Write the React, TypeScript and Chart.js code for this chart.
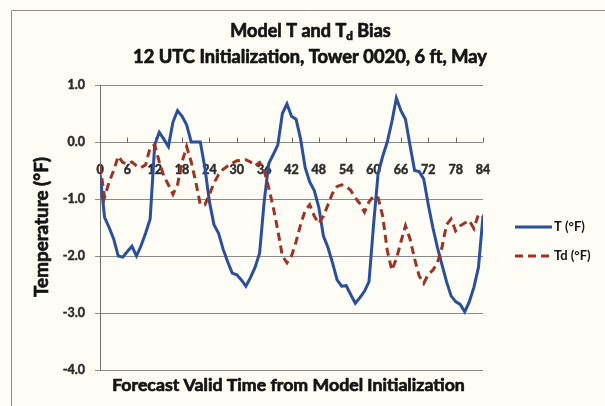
import React, { useEffect, useRef } from 'react';
import { Chart, registerables } from 'chart.js';

Chart.register(...registerables);

const HOURS = [
  0, 1, 2, 3, 4, 5, 6, 7, 8, 9, 10, 11, 12, 13, 14, 15, 16, 17, 18, 19, 20,
  21, 22, 23, 24, 25, 26, 27, 28, 29, 30, 31, 32, 33, 34, 35, 36, 37, 38, 39, 40,
  41, 42, 43, 44, 45, 46, 47, 48, 49, 50, 51, 52, 53, 54, 55, 56, 57, 58, 59, 60,
  61, 62, 63, 64, 65, 66, 67, 68, 69, 70, 71, 72, 73, 74, 75, 76, 77, 78, 79, 80,
  81, 82, 83, 84,
];

const T_BIAS = [
  -0.55, -1.32, -1.5, -1.7, -2.0, -2.02, -1.92, -1.83, -2.0, -1.82, -1.6,
  -1.35, -0.05, 0.17, 0.05, -0.08, 0.35, 0.55, 0.45, 0.3, 0.0,
  0.0, 0.0, -0.45, -1.05, -1.45, -1.6, -1.88, -2.1, -2.3, -2.33,
  -2.42, -2.53, -2.38, -2.2, -1.95, -1.05, -0.38, -0.22, -0.05, 0.5,
  0.67, 0.45, 0.4, 0.05, -0.45, -0.7, -0.85, -1.15, -1.65, -1.85,
  -2.12, -2.42, -2.53, -2.52, -2.68, -2.83, -2.73, -2.62, -2.45, -1.45,
  -0.55, -0.25, 0.0, 0.35, 0.77, 0.55, 0.4, -0.06, -0.5, -0.52,
  -0.65, -1.1, -1.5, -1.85, -2.15, -2.45, -2.7, -2.8, -2.85, -2.98,
  -2.8, -2.55, -2.2, -1.3,
];

const TD_BIAS = [
  -0.41, -0.97, -0.7, -0.5, -0.25, -0.36, -0.38, -0.35, -0.42, -0.45, -0.4,
  -0.1, -0.05, -0.35, -0.6, -0.75, -0.92, -0.75, -0.35, -0.08, -0.35,
  -0.7, -1.1, -1.1, -0.92, -0.72, -0.57, -0.48, -0.42, -0.37, -0.33,
  -0.32, -0.31, -0.35, -0.42, -0.36, -0.5, -0.8, -1.15, -1.55, -2.0,
  -2.12, -2.0, -1.75, -1.45, -1.2, -1.1, -1.3, -1.43, -1.3, -1.1,
  -0.9, -0.78, -0.75, -0.78, -0.85, -0.98, -1.08, -1.23, -1.05, -0.95,
  -0.98, -1.3, -1.9, -2.25, -2.05, -1.75, -1.47, -1.7, -2.05, -2.35,
  -2.48, -2.32, -2.25, -2.12, -1.85, -1.45, -1.35, -1.56, -1.47, -1.42,
  -1.38, -1.52, -1.27, -1.3,
];

const SERIES_NAMES = ['T (°F)', 'Td (°F)'];
const TITLE_LINE1 = ['Model T and T', 'd', ' Bias'];
const TITLE_LINE2 = '12 UTC Initialization, Tower 0020, 6 ft, May';
const X_TITLE = 'Forecast Valid Time from Model Initialization';
const Y_TITLE = 'Temperature (°F)';
const Y_MIN = -4;
const Y_MAX = 1;
const X_MIN = 0;
const X_MAX = 84;
const X_STEP = 6;

const FONT = 'Lato, "Open Sans", "DejaVu Sans", sans-serif';
const W = 'bold';
const BLUE = '#2b4f9a';
const RED = '#9c3326';
const BG = '#fdfdf5';
const TEXT = '#141414';
const TICK_TEXT = '#2c2c2c';
const STROKE = 0.7;

function fitSize(ctx: CanvasRenderingContext2D, text: string, weight: string, target: number) {
  ctx.font = `${weight} 20px ${FONT}`;
  const w = ctx.measureText(text).width;
  return (20 * target) / w;
}

function heavyText(ctx: CanvasRenderingContext2D, text: string, x: number, y: number) {
  ctx.fillText(text, x, y);
  ctx.strokeText(text, x, y);
}

const decorPlugin = {
  id: 'decor',
  beforeDraw(chart: any) {
    const ctx = chart.ctx as CanvasRenderingContext2D;
    ctx.save();
    ctx.fillStyle = BG;
    ctx.fillRect(0, 0, chart.width, chart.height);
    ctx.strokeStyle = '#8e8e8e';
    ctx.lineWidth = 1;
    ctx.beginPath();
    ctx.moveTo(11.5, chart.height);
    ctx.lineTo(11.5, 10.5);
    ctx.lineTo(chart.width, 10.5);
    ctx.stroke();
    ctx.restore();
  },
  beforeDatasetsDraw(chart: any) {
    const ctx = chart.ctx as CanvasRenderingContext2D;
    const xs = chart.scales.x;
    const ys = chart.scales.y;
    const y0 = Math.round(ys.getPixelForValue(0)) + 0.5;
    ctx.save();
    ctx.strokeStyle = '#6a6a6a';
    ctx.lineWidth = 1;
    ctx.beginPath();
    for (let h = X_MIN; h <= X_MAX; h += X_STEP) {
      const px = Math.round(xs.getPixelForValue(h)) + 0.5;
      ctx.moveTo(px, y0);
      ctx.lineTo(px, y0 - 5);
    }
    ctx.stroke();
    ctx.restore();
  },
  afterDraw(chart: any) {
    const ctx = chart.ctx as CanvasRenderingContext2D;
    ctx.save();
    ctx.fillStyle = TEXT;
    ctx.strokeStyle = TEXT;
    ctx.lineWidth = STROKE;
    ctx.lineJoin = 'round';
    ctx.textBaseline = 'middle';

    // Title line 1 with subscript d
    const fullLine1 = TITLE_LINE1.join('');
    const s1 = fitSize(ctx, fullLine1, W, 162);
    const subSize = s1 * 0.65;
    ctx.font = `${W} ${s1}px ${FONT}`;
    const wA = ctx.measureText(TITLE_LINE1[0]).width;
    const wC = ctx.measureText(TITLE_LINE1[2]).width;
    ctx.font = `${W} ${subSize}px ${FONT}`;
    const wB = ctx.measureText(TITLE_LINE1[1]).width;
    const total = wA + wB + wC;
    let x = 310.5 - total / 2;
    const yT1 = 31;
    ctx.textAlign = 'left';
    ctx.font = `${W} ${s1}px ${FONT}`;
    heavyText(ctx, TITLE_LINE1[0], x, yT1);
    x += wA;
    ctx.font = `${W} ${subSize}px ${FONT}`;
    heavyText(ctx, TITLE_LINE1[1], x, yT1 + s1 * 0.3);
    x += wB;
    ctx.font = `${W} ${s1}px ${FONT}`;
    heavyText(ctx, TITLE_LINE1[2], x, yT1);

    // Title line 2
    const s2 = fitSize(ctx, TITLE_LINE2, W, 354);
    ctx.font = `${W} ${s2}px ${FONT}`;
    ctx.textAlign = 'center';
    heavyText(ctx, TITLE_LINE2, 310, 57);

    // X title
    const s3 = fitSize(ctx, X_TITLE, W, 353);
    ctx.font = `${W} ${s3}px ${FONT}`;
    heavyText(ctx, X_TITLE, 288.5, 385);

    // Y title
    const s4 = fitSize(ctx, Y_TITLE, W, 140);
    ctx.font = `${W} ${s4}px ${FONT}`;
    ctx.translate(42, 227);
    ctx.rotate(-Math.PI / 2);
    heavyText(ctx, Y_TITLE, 0, 0);
    ctx.restore();

    // Legend
    ctx.save();
    ctx.lineCap = 'butt';
    ctx.lineWidth = 3;
    ctx.strokeStyle = BLUE;
    ctx.beginPath();
    ctx.moveTo(515, 227);
    ctx.lineTo(552, 227);
    ctx.stroke();
    ctx.strokeStyle = RED;
    ctx.setLineDash([8, 5]);
    ctx.beginPath();
    ctx.moveTo(515, 256);
    ctx.lineTo(552, 256);
    ctx.stroke();
    ctx.setLineDash([]);
    ctx.fillStyle = TEXT;
    ctx.textAlign = 'left';
    ctx.textBaseline = 'middle';
    ctx.font = `bold 13px ${FONT}`;
    ctx.fillText(SERIES_NAMES[0], 554, 227);
    ctx.fillText(SERIES_NAMES[1], 554, 256);
    ctx.restore();
  },
};

export default function App() {
  const canvasRef = useRef<HTMLCanvasElement | null>(null);

  useEffect(() => {
    const canvas = canvasRef.current;
    if (!canvas) return;
    const chart = new Chart(canvas, {
      type: 'line',
      data: {
        datasets: [
          {
            label: SERIES_NAMES[0],
            data: HOURS.map((h, i) => ({ x: h, y: T_BIAS[i] })),
            borderColor: BLUE,
            borderWidth: 3,
            pointRadius: 0,
            tension: 0,
            fill: false,
            order: 1,
          },
          {
            label: SERIES_NAMES[1],
            data: HOURS.map((h, i) => ({ x: h, y: TD_BIAS[i] })),
            borderColor: RED,
            borderWidth: 3,
            borderDash: [8, 5],
            pointRadius: 0,
            tension: 0,
            fill: false,
            order: 0,
          },
        ],
      },
      options: {
        animation: false,
        responsive: false,
        devicePixelRatio: 1,
        layout: { padding: { left: 12, right: 122, top: 85, bottom: 36 } },
        plugins: {
          legend: { display: false },
          title: { display: false },
          tooltip: { enabled: false },
        },
        scales: {
          x: {
            type: 'linear',
            position: { y: 0 },
            min: X_MIN,
            max: X_MAX,
            afterFit: (scale: any) => {
              scale.height = 1;
            },
            grid: { display: true, drawOnChartArea: false, drawTicks: false },
            border: { display: false },
            ticks: {
              stepSize: X_STEP,
              autoSkip: false,
              maxRotation: 0,
              padding: 20,
              color: TICK_TEXT,
              textStrokeColor: TICK_TEXT,
              textStrokeWidth: 0.5,
              font: { family: FONT, size: 12.5, weight: 'bold' },
              callback: (v: any) => String(v),
            },
          },
          y: {
            type: 'linear',
            min: Y_MIN,
            max: Y_MAX,
            afterFit: (scale: any) => {
              scale.width = 88;
            },
            grid: {
              color: '#8a8a8a',
              lineWidth: 1,
              drawTicks: true,
              tickLength: 5,
            },
            border: { display: true, color: '#6e6e6e', width: 1 },
            ticks: {
              stepSize: 1,
              padding: 10,
              color: TICK_TEXT,
              textStrokeColor: TICK_TEXT,
              textStrokeWidth: 0.5,
              font: { family: FONT, size: 12.5, weight: 'bold' },
              callback: (v: any) => Number(v).toFixed(1),
            },
          },
        },
      },
      plugins: [decorPlugin],
    });
    return () => chart.destroy();
  }, []);

  return (
    <div style={{ position: 'absolute', left: 0, top: 0, width: 605, height: 406 }}>
      <canvas ref={canvasRef} width={605} height={406} style={{ display: 'block' }} />
    </div>
  );
}
